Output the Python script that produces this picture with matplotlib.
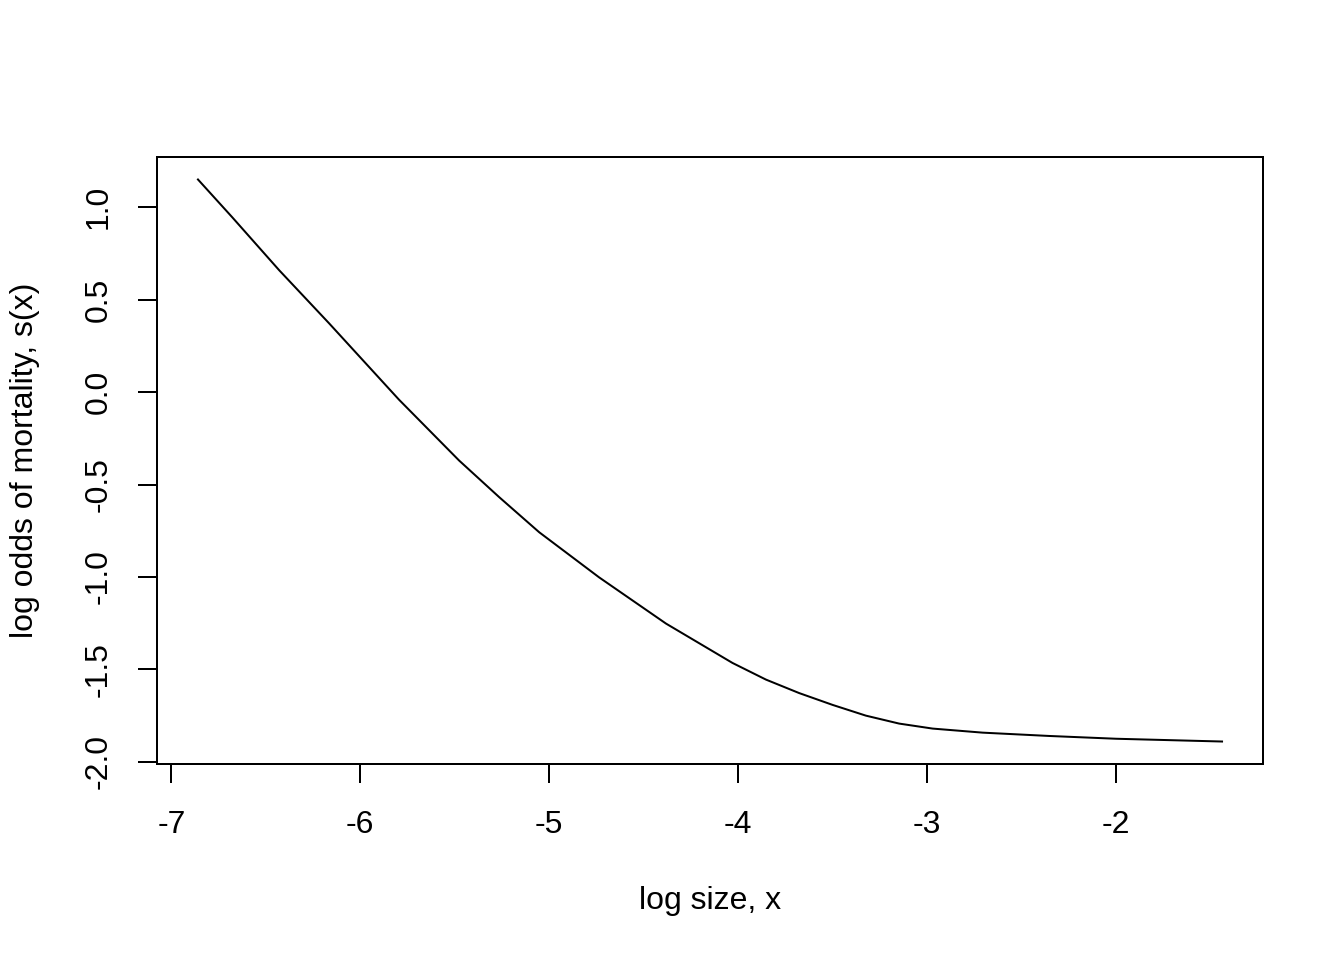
import matplotlib.pyplot as plt
import numpy as np

plt.rcParams['font.family'] = ['Liberation Sans', 'DejaVu Sans']

# curve
log_size = [-6.859, -6.677, -6.429, -6.165, -5.795, -5.477, -5.265, -5.053,
            -4.736, -4.382, -4.030, -3.853, -3.677, -3.500, -3.324, -3.148,
            -2.971, -2.706, -2.353, -2.000, -1.439]
log_odds = [1.150, 0.945, 0.659, 0.372, -0.041, -0.370, -0.568, -0.758,
            -1.002, -1.252, -1.465, -1.555, -1.628, -1.692, -1.750, -1.793,
            -1.820, -1.842, -1.860, -1.875, -1.890]

x_ticks = [-7, -6, -5, -4, -3, -2]
y_ticks = [-2.0, -1.5, -1.0, -0.5, 0.0, 0.5, 1.0]

fig = plt.figure(figsize=(7, 5), dpi=192)
ax = fig.add_axes([157 / 1344, 1 - 764 / 960, (1263 - 157) / 1344, (764 - 157) / 960])

ax.plot(log_size, log_odds, color='black', linewidth=0.75)

# R style 4% padding
xr = max(log_size) - min(log_size)
yr = max(log_odds) - min(log_odds)
ax.set_xlim(min(log_size) - 0.04 * xr, max(log_size) + 0.04 * xr)
ax.set_ylim(min(log_odds) - 0.04 * yr, max(log_odds) + 0.04 * yr)

ax.set_xticks(x_ticks)
ax.set_xticklabels([str(t) for t in x_ticks])
ax.set_yticks(y_ticks)
ax.set_yticklabels(['%.1f' % t for t in y_ticks], rotation=90, va='center')

for s in ax.spines.values():
    s.set_linewidth(0.75)
ax.tick_params(length=7.2, width=0.75, labelsize=12, direction='out')
ax.tick_params(axis='x', pad=10)
ax.tick_params(axis='y', pad=9)

fig.text(710 / 1344, 1 - 901 / 960, 'log size, x', ha='center', va='center', fontsize=12)
fig.text(25 / 1344, 1 - 460 / 960, 'log odds of mortality, s(x)', ha='center', va='center',
         rotation=90, fontsize=12)

fig.savefig('out.png', dpi=192)
